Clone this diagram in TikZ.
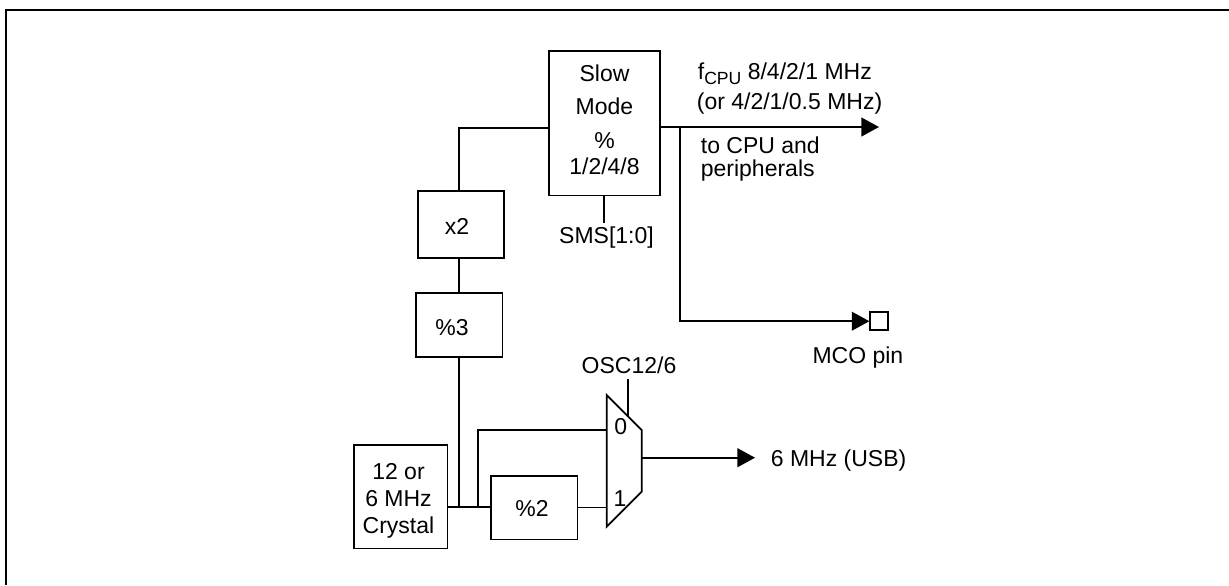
\documentclass[tikz,border=0pt]{standalone}
\usepackage{fontspec}
\setmainfont{Liberation Sans}
\usetikzlibrary{arrows.meta}
\begin{document}
\begin{tikzpicture}[x=0.5pt,y=-0.5pt,line width=0.85pt,
  blk/.style 2 args={draw,inner sep=0pt,minimum width=#1*0.5pt,minimum height=#2*0.5pt},
  lbl/.style={inner sep=0pt,font=\fontsize{11.5}{13}\selectfont},
  arr/.style={-{Triangle[length=8.8pt,width=9.4pt]}}]
\useasboundingbox (0,0) rectangle (1229,585);
% frame
\draw[line width=1.4pt] (1229,10) -- (6,10) -- (6,585);
% blocks
\node[blk={111}{144.5}] (slow) at (604.5,123.3) {};
\node[blk={86}{67.6}] (x2) at (461.3,224.5) {};
\node[blk={86.3}{64}] (div3) at (459.2,324.7) {};
\node[blk={93.3}{103.3}] (xtal) at (400.7,496.7) {};
\node[blk={86.3}{63.3}] (div2) at (534.2,507.7) {};
\node[draw,inner sep=0pt,minimum size=9pt] (mco) at (879.2,321.2) {};
% mux
\draw (606.7,395) -- (641.7,430) -- (641.7,491.7) -- (606.7,526.7) -- cycle;
\coordinate (in0) at (606.7,430);
\coordinate (in1) at (606.7,507.5);
\coordinate (mout) at (641.7,457.7);
\coordinate (sel) at (628.3,416.6);
% labels in blocks
\node[lbl,anchor=base] (t1) at (604.5,81.5) {Slow};
\node[lbl,anchor=base] (t2) at (604.5,114.9) {Mode};
\node[lbl,anchor=base] (t3) at (604.5,148.2) {\%};
\node[lbl,anchor=base] (t4) at (604.5,174.9) {1/2/4/8};
\node[lbl] (tx2) at (457,226) {x2};
\node[lbl] (td3) at (452,328) {\%3};
\node[lbl,anchor=base] (c1) at (398.5,479.9) {12 or};
\node[lbl,anchor=base] (c2) at (398.5,506.6) {6 MHz};
\node[lbl,anchor=base] (c3) at (398.5,533.3) {Crystal};
\node[lbl] (td2) at (532,509) {\%2};
\node[lbl] (l0) at (620.7,426.7) {0};
\node[lbl] (l1) at (620,498.3) {1};
% connectors
\coordinate (j1) at (459,128.3);
\draw (x2.north -| j1) -- (j1) -- (j1 -| slow.west);
\draw (x2.south -| j1) -- (div3.north -| j1);
\coordinate (j2) at (459,506.7);
\draw (div3.south -| j2) -- (j2);
\draw (xtal.east |- j2) -- (div2.west |- j2);
\coordinate (j3) at (477.7,506.7);
\draw (j3) |- (in0);
\draw (div2.east |- in1) -- (in1);
\coordinate (usb) at (755,457.7);
\draw[arr] (mout) -- (usb);
\coordinate (osc) at (628.3,379.3);
\draw (osc) -- (sel);
\coordinate (fout) at (879,127);
\draw[arr] (fout -| slow.east) -- (fout);
\coordinate (j4) at (680,127);
\draw[arr] (j4) |- (mco.west);
\coordinate (sms) at (604,223.3);
\draw (slow.south -| sms) -- (sms);
% outside labels
\node[lbl,anchor=base] (tsms) at (606.5,243) {SMS[1:0]};
\node[lbl,anchor=base] (tosc) at (629,373) {OSC12/6};
\node[lbl,anchor=base west] (tf1) at (697,79) {f\raisebox{-2.5pt}{\fontsize{8.8}{10}\selectfont CPU} 8/4/2/1 MHz};
\node[lbl,anchor=base west] (tf2) at (696,109.5) {(or 4/2/1/0.5 MHz)};
\node[lbl,anchor=base west] (tp1) at (700,153.5) {to CPU and};
\node[lbl,anchor=base west] (tp2) at (700,176.5) {peripherals};
\node[lbl,anchor=base west] (tmco) at (811.7,363.5) {MCO pin};
\node[lbl,anchor=base west] (tusb) at (770,466) {6 MHz (USB)};
\end{tikzpicture}
\end{document}
